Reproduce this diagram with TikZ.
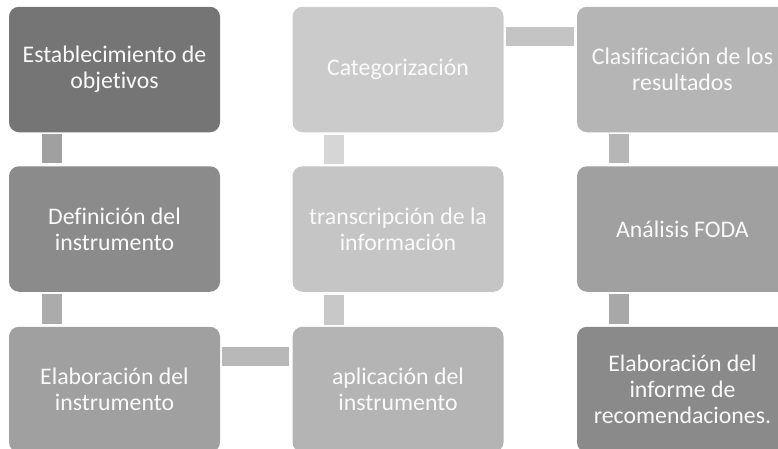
\documentclass[tikz,border=0pt]{standalone}
\usepackage{fontspec}
\setmainfont[Ligatures=CommonOff]{Carlito}
\definecolor{b1c}{HTML}{757575}
\definecolor{b2c}{HTML}{8B8B8B}
\definecolor{b3c}{HTML}{A0A0A0}
\definecolor{b4c}{HTML}{B4B4B4}
\definecolor{b5c}{HTML}{C5C5C5}
\definecolor{b6c}{HTML}{CBCBCB}
\definecolor{b7c}{HTML}{B5B5B5}
\definecolor{b8c}{HTML}{A0A0A0}
\definecolor{b9c}{HTML}{8A8A8A}
\definecolor{k1}{HTML}{A0A0A0}
\definecolor{k2}{HTML}{ABABAB}
\definecolor{k3}{HTML}{B8B8B8}
\definecolor{k4}{HTML}{C8C8C8}
\definecolor{k5}{HTML}{D6D6D6}
\definecolor{k6}{HTML}{C4C4C4}
\definecolor{k7}{HTML}{B6B6B6}
\definecolor{k8}{HTML}{A8A8A8}
\tikzset{
  stepnode/.style={rounded corners=10pt, minimum width=211pt, minimum height=125.5pt,
    inner sep=0pt, align=center, text=white!96!gray,
    font=\fontsize{23.8}{25.8}\selectfont},
  vbar/.style={line width=20pt, line cap=butt, shorten <=2pt, shorten >=3pt},
  hbar/.style={line width=19pt, line cap=butt, shorten <=2pt, shorten >=3pt}
}
\begin{document}
\begin{tikzpicture}[x=1pt,y=-1pt]
\useasboundingbox (0,0) rectangle (778,448);
\node[stepnode, fill=b1c] (b1) at (114.5,69.5) {Establecimiento de\\objetivos};
\node[stepnode, fill=b2c] (b2) at (114.5,229) {Definición del\\instrumento};
\node[stepnode, fill=b3c] (b3) at (114.5,389.5) {Elaboración del\\instrumento};
\node[stepnode, fill=b4c] (b4) at (398,389.5) {aplicación del\\instrumento};
\node[stepnode, fill=b5c] (b5) at (398,229) {transcripción de la\\información};
\node[stepnode, fill=b6c] (b6) at (398,69.5) {Categorización};
\node[stepnode, fill=b7c] (b7) at (682.5,69.5) {Clasificación de los\\resultados};
\node[stepnode, fill=b8c] (b8) at (682.5,229) {Análisis FODA};
\node[stepnode, fill=b9c] (b9) at (682.5,389.5) {Elaboración del\\informe de\\recomendaciones.};
\draw[vbar, draw=k1] ([xshift=43pt]b1.south west) -- ([xshift=43pt]b2.north west);
\draw[vbar, draw=k2] ([xshift=43pt]b2.south west) -- ([xshift=43pt]b3.north west);
\draw[hbar, draw=k3] ([yshift=-29.5pt]b3.north east) -- ([yshift=-29.5pt]b4.north west);
\draw[vbar, draw=k4] ([xshift=42pt]b4.north west) -- ([xshift=42pt]b5.south west);
\draw[vbar, draw=k5] ([xshift=42pt]b5.north west) -- ([xshift=42pt]b6.south west);
\draw[hbar, draw=k6] ([yshift=-29.5pt]b6.north east) -- ([yshift=-29.5pt]b7.north west);
\draw[vbar, draw=k7] ([xshift=42pt]b7.south west) -- ([xshift=42pt]b8.north west);
\draw[vbar, draw=k8] ([xshift=42pt]b8.south west) -- ([xshift=42pt]b9.north west);
\end{tikzpicture}
\end{document}
